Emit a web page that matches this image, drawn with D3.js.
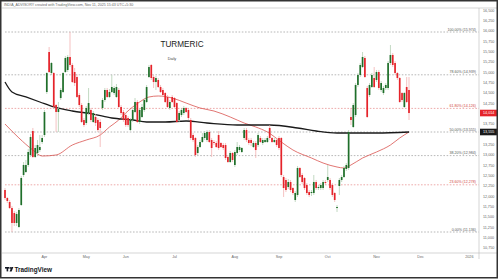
<!DOCTYPE html>
<html>
<head>
<meta charset="utf-8">
<script src="https://cdn.jsdelivr.net/npm/d3@7"></script>
<style>
  body { margin: 0; background: #fff; }
  svg { display: block; }
</style>
</head>
<body>
<div id="chart"></div>
<script>
// daily OHLC, TURMERIC, Mar -> Nov 11 2025
const open = [
  12152, 11958, 11862, 11716, 11595, 11354, 11257, 11789, 12515, 12587,
  12757, 12998, 13579, 12950, 13047, 13119, 13313, 13482, 14522, 15490,
  14982, 14982, 14208, 14039, 14377, 14522, 15006, 15055, 15369, 15176,
  15006, 14885, 14450, 14208, 13845, 13773, 14014, 14087, 13797, 13918,
  13845, 13797, 14135, 14329, 14571, 14402, 14522, 14498, 14402, 14571,
  14160, 14039, 13966, 13894, 13603, 13845, 14039, 14281, 13797, 13918,
  14087, 14281, 14885, 15176, 14885, 14764, 14813, 14643, 14571, 14498,
  14402, 14135, 14402, 14377, 14256, 13845, 13966, 14014, 14135, 14087,
  13845, 13482, 13410, 13047, 13192, 13313, 13410, 13361, 13555, 13361,
  13313, 13289, 13482, 13289, 13240, 13240, 12950, 12829, 13047, 12757,
  13047, 13119, 13071, 13410, 13603, 13361, 13361, 13192, 13289, 13240,
  13410, 13289, 13313, 13313, 13652, 13410, 13313, 13361, 13410, 13410,
  12466, 12394, 12224, 12345, 12200, 11910, 12031, 12684, 12515, 12442,
  12273, 12103, 12079, 12079, 12345, 12200, 12200, 12200, 12345, 12394,
  12394, 12273, 12079, 11716, 12249, 12394, 12466, 12660, 12684, 13918,
  13676, 13966, 14692, 14934, 15127, 15345, 14619, 14450, 14643, 14861,
  14813, 15006, 14571, 14498, 14619, 14619, 15224, 15418, 15224, 14982,
  14861, 14498, 14160, 14643, 14571
];
const high = [
  12200, 11983, 11910, 11765, 11644, 11620, 11716, 12491, 12829, 12878,
  13144, 13506, 13652, 13240, 13361, 13482, 13482, 14087, 15006, 15611,
  15248, 15006, 14232, 14281, 14619, 15006, 15393, 15418, 15974, 15224,
  15103, 14958, 14498, 14256, 13894, 14184, 14619, 14135, 14063, 13990,
  13894, 13869, 14377, 14619, 14619, 14595, 14934, 14668, 14716, 14619,
  14208, 14087, 14014, 13942, 13894, 14135, 14377, 14329, 14135, 14232,
  14377, 14692, 15176, 15200, 14934, 14910, 14861, 14692, 14619, 14522,
  14450, 14329, 14450, 14402, 14281, 14063, 14135, 14184, 14160, 14135,
  13894, 13531, 13434, 13240, 13361, 13531, 13579, 13603, 13603, 13410,
  13361, 13337, 13579, 13313, 13289, 13289, 12998, 13095, 13071, 13119,
  13313, 13240, 13192, 13652, 13652, 13410, 13410, 13337, 13337, 13531,
  13458, 13410, 13410, 13458, 13724, 13434, 13410, 13410, 13458, 13434,
  12515, 12442, 12418, 12394, 12224, 12128, 12732, 12708, 12563, 12466,
  12321, 12152, 12152, 12515, 12394, 12273, 12321, 12394, 12394, 12757,
  12442, 12321, 12103, 11789, 12442, 12515, 12732, 12805, 13603, 14135,
  14256, 14740, 14982, 15224, 15490, 15393, 14668, 14740, 14982, 15127,
  15055, 15055, 14789, 14668, 14740, 15272, 15659, 15466, 15272, 15006,
  14885, 14522, 14522, 14885, 14885
];
const low = [
  11910, 11837, 11692, 11136, 11281, 11281, 11233, 11765, 12466, 12563,
  12708, 12950, 12926, 12926, 12998, 13071, 13265, 13434, 14474, 14982,
  14934, 14135, 13555, 13555, 14329, 14498, 14982, 15006, 15127, 14740,
  14668, 14377, 14160, 13773, 13676, 13724, 13966, 13797, 13773, 13700,
  13555, 13192, 14087, 14281, 14377, 14377, 14498, 14450, 14377, 14135,
  13966, 13797, 13676, 13676, 13579, 13797, 14014, 13773, 13748, 13894,
  14039, 14256, 14861, 14813, 14619, 14571, 14619, 14498, 14402, 14256,
  14135, 14087, 14256, 14135, 13773, 13797, 13918, 13966, 14014, 13845,
  13361, 13313, 12950, 12998, 13168, 13289, 13361, 13313, 13289, 12950,
  13240, 13168, 13119, 13168, 13119, 12878, 12805, 12805, 12829, 12708,
  12998, 13071, 13047, 13361, 13313, 13240, 13216, 13168, 12926, 13192,
  13289, 13240, 13289, 13289, 13361, 13289, 13289, 13192, 13119, 12466,
  11983, 12103, 12176, 12103, 12031, 11862, 11983, 12442, 12297, 12152,
  12031, 11983, 12007, 12031, 12152, 12152, 12152, 12152, 12273, 12345,
  12152, 11983, 11862, 11620, 12031, 12345, 12442, 12611, 12636, 13724,
  13652, 13918, 14643, 14885, 15103, 14861, 13894, 14402, 14619, 14619,
  14764, 14571, 14522, 14450, 14571, 14571, 15176, 15127, 14934, 14813,
  14256, 14281, 14135, 14256, 13845
];
const close = [
  11958, 11886, 11716, 11354, 11354, 11571, 11668, 12442, 12757, 12757,
  13071, 13434, 12950, 13168, 13240, 13192, 13410, 14039, 14982, 15006,
  15224, 14160, 14039, 14111, 14571, 14982, 15345, 15369, 15176, 14764,
  14740, 14402, 14208, 13797, 13724, 14135, 14256, 13845, 14014, 13773,
  13603, 13652, 14329, 14571, 14402, 14522, 14643, 14619, 14643, 14160,
  14014, 13845, 13724, 13724, 13845, 14087, 14281, 13797, 14087, 14160,
  14329, 14643, 15127, 14861, 14764, 14861, 14643, 14522, 14450, 14281,
  14160, 14281, 14281, 14160, 13797, 14014, 14087, 14135, 14039, 13894,
  13410, 13361, 12998, 13192, 13313, 13434, 13531, 13555, 13313, 13168,
  13289, 13192, 13168, 13192, 13168, 12926, 12829, 13047, 12878, 13071,
  13192, 13192, 13168, 13603, 13361, 13289, 13289, 13289, 13119, 13482,
  13313, 13361, 13361, 13410, 13410, 13313, 13361, 13240, 13168, 12515,
  12200, 12152, 12345, 12152, 12079, 12079, 12684, 12466, 12345, 12200,
  12079, 12031, 12103, 12345, 12200, 12224, 12273, 12345, 12321, 12466,
  12200, 12031, 11910, 11741, 12394, 12466, 12684, 12757, 13555, 13845,
  14208, 14692, 14934, 15176, 15369, 14885, 13918, 14692, 14934, 14643,
  15006, 14619, 14740, 14619, 14692, 15224, 15418, 15176, 14982, 14861,
  14281, 14329, 14498, 14281, 14014
];

// long (black) and short (red) moving averages, sampled at bar indexes
const slowMaBar = [0, 3, 9, 15, 21, 29, 38, 46, 55, 61, 69, 78, 87, 100, 114, 126, 134, 143, 151, 160, 174];
const slowMaVal = [14764, 14523, 14402, 14281, 14160, 14063, 13990, 13894, 13845, 13797, 13797, 13821, 13773, 13724, 13724, 13652, 13579, 13531, 13531, 13531, 13555];
const fastMaBar = [0, 6, 12, 16, 22, 29, 35, 41, 45, 49, 52, 55, 58, 62, 66, 72, 78, 84, 90, 97, 103, 108, 113, 119, 124, 132, 137, 143, 146, 149, 154, 160, 166, 170, 174];
const fastMaVal = [13748, 13410, 13119, 12974, 12999, 13240, 13361, 13482, 13676, 13845, 14015, 14160, 14281, 14402, 14426, 14377, 14256, 14135, 14063, 13918, 13772, 13676, 13555, 13313, 13120, 12926, 12805, 12708, 12684, 12757, 12926, 13071, 13240, 13410, 13555];

// fibonacci retracement
const fibLow = 11136, fibHigh = 15974;
const fibRatios = [0, 0.236, 0.382, 0.5, 0.618, 0.786, 1];

// time axis
const monthLabels = ["Apr", "May", "Jun", "Jul", "Aug", "Sep", "Oct", "Nov", "Dec", "2026"];
const monthBar = [17, 35, 52, 73, 99, 118, 139, 160, 179, 200];

const priceTicks = d3.range(10750, 16501, 250);

const W = 500, H = 280;
const paneRight = 479, paneTop = 8, paneBottom = 253;

const svg = d3.select("#chart").append("svg")
  .attr("width", W).attr("height", H)
  .style("font-family", "'Liberation Sans', Arial, sans-serif");

svg.append("rect").attr("width", W).attr("height", H).attr("fill", "#fff");

const x = d3.scaleLinear().domain([0, open.length - 1]).range([5, 409]);
const y = d3.scaleLinear().domain([fibLow, fibHigh]).range([232, 32]);
const fmt = d3.format(",.0f");

// header
svg.append("text").attr("x", 4).attr("y", 5.5)
  .attr("font-size", 3.6).attr("fill", "#666")
  .text("INDIA_ADVISORY created with TradingView.com, Nov 11, 2025 15:43 UTC+5:30");

// pane borders
const g = svg.append("g");
g.append("line").attr("x1", 2).attr("x2", 497).attr("y1", paneTop).attr("y2", paneTop)
  .attr("stroke", "#bbb").attr("stroke-width", 0.6);
g.append("line").attr("x1", 2).attr("x2", 497).attr("y1", paneBottom).attr("y2", paneBottom)
  .attr("stroke", "#bbb").attr("stroke-width", 0.6);
g.append("line").attr("x1", paneRight).attr("x2", paneRight).attr("y1", paneTop).attr("y2", 259)
  .attr("stroke", "#bbb").attr("stroke-width", 0.6);

// fib lines
const fibs = fibRatios.map(r => ({ r, v: fibLow + r * (fibHigh - fibLow) }));
const isRed = r => r === 0.236 || r === 0.618;
g.selectAll(".fib").data(fibs).join("line")
  .attr("x1", 5).attr("x2", paneRight)
  .attr("y1", d => y(d.v)).attr("y2", d => y(d.v))
  .attr("stroke", d => isRed(d.r) ? "#e07070" : "#888").attr("stroke-width", 0.6)
  .attr("stroke-dasharray", "1.6,1.6");
g.selectAll(".fibl").data(fibs).join("text")
  .attr("x", 476).attr("y", d => y(d.v) - 1.5)
  .attr("text-anchor", "end").attr("font-size", 3.6)
  .attr("fill", d => isRed(d.r) ? "#d04040" : "#555")
  .text(d => `${(d.r * 100).toFixed(2)}% (${fmt(d.v)})`);

// title
svg.append("text").attr("x", 182).attr("y", 46.5).attr("text-anchor", "middle")
  .attr("font-size", 8.2).attr("fill", "#222").text("TURMERIC");
svg.append("text").attr("x", 172).attr("y", 60).attr("text-anchor", "middle")
  .attr("font-size", 3.8).attr("fill", "#444").text("Daily");

// moving averages
const fast = fastMaBar.map((b, i) => [b, fastMaVal[i]]);
const slow = slowMaBar.map((b, i) => [b, slowMaVal[i]]);
const line = d3.line().x(d => x(d[0])).y(d => y(d[1])).curve(d3.curveMonotoneX);
g.append("path").datum(fast).attr("d", line)
  .attr("fill", "none").attr("stroke", "#d9534f").attr("stroke-width", 0.8);
g.append("path").datum(slow).attr("d", line)
  .attr("fill", "none").attr("stroke", "#1a1a1a").attr("stroke-width", 1.3);

// candles
const bars = open.map((o, i) => ({ i, o, h: high[i], l: low[i], c: close[i] }));
const up = d => d.c >= d.o;
const bw = 1.7;
g.selectAll(".wick").data(bars).join("line")
  .attr("x1", d => x(d.i)).attr("x2", d => x(d.i))
  .attr("y1", d => y(d.h)).attr("y2", d => y(d.l))
  .attr("stroke", d => up(d) ? "#a9c9a9" : "#f0a8a8").attr("stroke-width", 0.7);
g.selectAll(".body").data(bars).join("rect")
  .attr("x", d => x(d.i) - bw / 2).attr("width", bw)
  .attr("y", d => y(Math.max(d.o, d.c)))
  .attr("height", d => Math.max(0.8, Math.abs(y(d.o) - y(d.c))))
  .attr("fill", d => up(d) ? "#1f6f2a" : "#e5232a");

// right price axis, ticks under the value boxes are hidden
const lastClose = close[close.length - 1];
const lastSlow = slowMaVal[slowMaVal.length - 1];
const boxes = [[lastClose, "#e5232a"], [lastSlow, "#1a1a1a"]];
const axis = svg.append("g");
axis.selectAll("text").data(priceTicks.filter(t => boxes.every(b => Math.abs(y(t) - y(b[0])) > 5)))
  .join("text")
  .attr("x", 483).attr("y", d => y(d) + 1.3)
  .attr("font-size", 3.7).attr("fill", "#666")
  .text(d => fmt(d));

boxes.forEach(([v, col]) => {
  axis.append("rect").attr("x", 480).attr("y", y(v) - 3.3).attr("width", 17).attr("height", 6.6)
    .attr("fill", col);
  axis.append("text").attr("x", 483).attr("y", y(v) + 1.3)
    .attr("font-size", 3.7).attr("fill", "#fff").text(fmt(v));
});

// time axis
svg.append("g").selectAll("text").data(monthLabels).join("text")
  .attr("x", (d, i) => x(monthBar[i])).attr("y", 257.5)
  .attr("text-anchor", "middle").attr("font-size", 3.7).attr("fill", "#666")
  .text(d => d);

// TradingView logo
const logo = svg.append("g").attr("transform", "translate(5,267)").attr("fill", "#131722");
logo.append("rect").attr("x", 0).attr("y", 0).attr("width", 4).attr("height", 1.6);
logo.append("rect").attr("x", 1.6).attr("y", 0).attr("width", 1.6).attr("height", 4.4);
logo.append("circle").attr("cx", 5.2).attr("cy", 0.9).attr("r", 0.9);
logo.append("path").attr("d", "M6.4,0 L8.4,0 L6.6,4.4 L4.6,4.4 Z");
svg.append("text").attr("x", 14.5).attr("y", 271.5)
  .attr("font-size", 6.4).attr("font-weight", "bold").attr("fill", "#131722")
  .text("TradingView");

// outer frame
svg.append("rect").attr("x", 0.75).attr("y", 0.75).attr("width", 496.5).attr("height", 277)
  .attr("fill", "none").attr("stroke", "#333").attr("stroke-width", 1.5);
</script>
</body>
</html>
